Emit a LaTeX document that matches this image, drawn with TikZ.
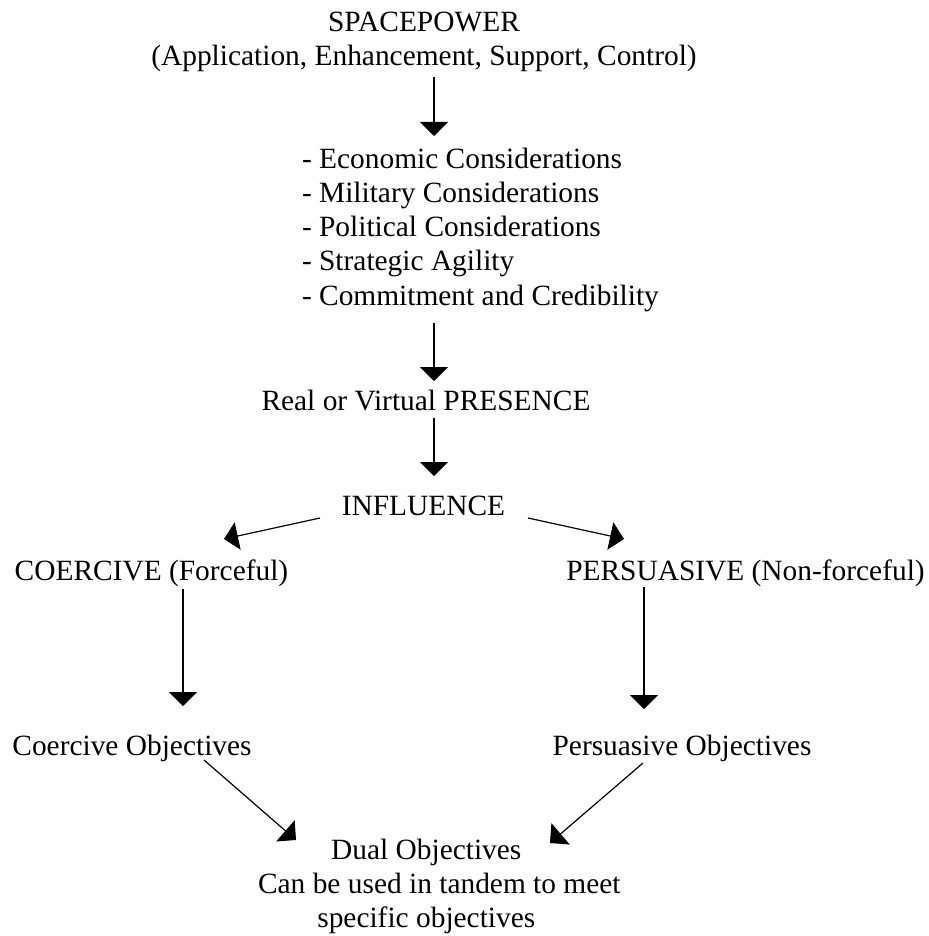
\documentclass[tikz,border=0pt]{standalone}
\usepackage{fontspec}
\setmainfont{Liberation Serif}
\usetikzlibrary{calc,arrows.meta}
\begin{document}
\begin{tikzpicture}[x=0.5pt,y=-0.5pt,
  txt/.style={inner sep=0pt,outer sep=0pt,font=\fontsize{14.7pt}{17.1pt}\selectfont},
  arr/.style={line width=0.6pt,-{Triangle[width=14pt,length=7pt]}}]
\useasboundingbox (0,0) rectangle (928,936);
% nodes
\node[txt,anchor=base] (sp) at (424,31.5) {SPACEPOWER};
\node[txt,anchor=base] (app) at (424,66) {(Application, Enhancement, Support, Control)};
\node[txt,anchor=north west,align=left] (list) at (302,148) {- Economic Considerations\\- Military Considerations\\- Political Considerations\\- Strategic Agility\\- Commitment and Credibility};
\node[txt,anchor=base] (pres) at (426,410) {Real or Virtual PRESENCE};
\node[txt,anchor=base] (infl) at (423.5,515) {INFLUENCE};
\node[txt,anchor=base] (coer) at (151.5,580) {COERCIVE (Forceful)};
\node[txt,anchor=base] (pers) at (745.5,580) {PERSUASIVE (Non-forceful)};
\node[txt,anchor=base] (cobj) at (132,755) {Coercive Objectives};
\node[txt,anchor=base] (pobj) at (682,755) {Persuasive Objectives};
\node[txt,anchor=north,align=center] (dual) at (426.3,839) {Dual Objectives\\\hspace*{13pt}Can be used in tandem to meet\\specific objectives};
% connectors
\draw[arr] ($(app.base)+(10,11)$) -- ($(list.north west)+(132,-12)$);
\draw[arr] ($(list.north west)+(132,175)$) -- ($(pres.base)+(8,-29)$);
\draw[arr] ($(pres.base)+(8,8)$) -- ($(infl.base)+(10.5,-39)$);
\draw[arr] ($(infl.base)+(-103.5,3)$) -- ($(coer.base)+(72.5,-41)$);
\draw[arr] ($(infl.base)+(104.5,3)$) -- ($(pers.base)+(-121.5,-41)$);
\draw[arr] ($(coer.base)+(31.5,9)$) -- ($(cobj.base)+(51,-49)$);
\draw[arr] ($(pers.base)+(-101.5,7)$) -- ($(pobj.base)+(-38,-46)$);
\draw[arr] ($(cobj.base)+(72,5)$) -- ($(dual.north)+(-130.3,1)$);
\draw[arr] ($(pobj.base)+(-39,8)$) -- ($(dual.north)+(123.7,4)$);
\end{tikzpicture}
\end{document}
